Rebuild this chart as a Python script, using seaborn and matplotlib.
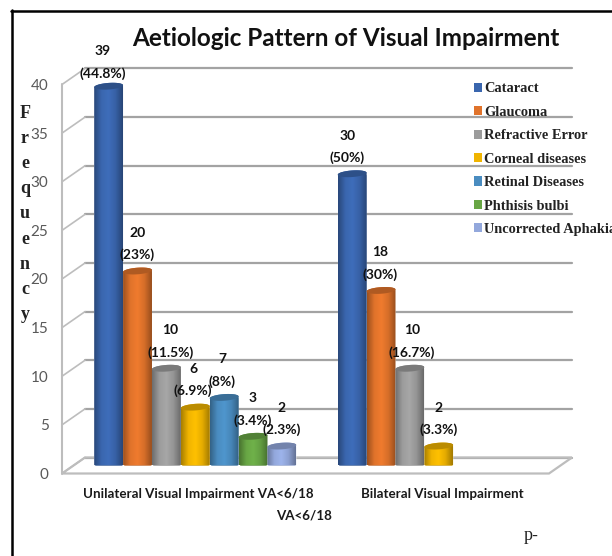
# Aetiologic pattern of visual impairment, 3D-look cylinder bars
import numpy as np
import pandas as pd
import matplotlib
matplotlib.use('Agg')
import matplotlib.pyplot as plt
import seaborn as sns
from matplotlib.colors import LinearSegmentedColormap, to_rgb
from matplotlib.patches import Patch, Polygon, Rectangle
from matplotlib.transforms import ScaledTranslation

groups = ['Unilateral Visual Impairment VA<6/18', 'Bilateral Visual Impairment']
causes = ['Cataract', 'Glaucoma', 'Refractive Error', 'Corneal diseases',
          'Retinal Diseases', 'Phthisis bulbi', 'Uncorrected Aphakia']
unilateral = [39, 20, 10, 6, 7, 3, 2]
bilateral = [30, 18, 10, 2]
unilateral_pct = ['44.8%', '23%', '11.5%', '6.9%', '8%', '3.4%', '2.3%']
bilateral_pct = ['50%', '30%', '16.7%', '3.3%']
colors = ['#3A66AE', '#E0732B', '#9C9C9C', '#F0B400', '#4A8CC0', '#68A645', '#93A8DC']
y_ticks = [0, 5, 10, 15, 20, 25, 30, 35, 40]

sns.set_theme(style='white')
plt.rcParams['font.family'] = ['Lato', 'DejaVu Sans']

rows = []
for c, v in zip(causes, unilateral):
    rows.append({'group': groups[0], 'cause': c, 'value': v})
for c, v in zip(causes, bilateral):
    rows.append({'group': groups[1], 'cause': c, 'value': v})
df = pd.DataFrame(rows)

W, H = 612, 556
fig = plt.figure(figsize=(W / 100, H / 100), dpi=100)
ax = fig.add_axes([73.5 / W, 1 - 465.5 / H, 487 / W, 389 / H])

sns.barplot(data=df, x='group', y='value', hue='cause', order=groups, hue_order=causes,
            palette=colors, width=0.83, gap=0, legend=False, ax=ax, zorder=3)
ax.set_xlim(-0.5, 1.5)
ax.set_ylim(0, 40)
ax.set_xlabel('')
ax.set_ylabel('')
sns.despine(ax=ax, left=True, bottom=True)

bars = sorted([b for b in ax.patches if isinstance(b, Rectangle) and b.get_height() > 0], key=lambda b: b.get_x())

# fake depth: back wall and front edge sit either side of the bar plane
dx = 11.5 * 2 / 487
dy = 8 * 40 / 389
grid_col = '#A3A3A3'
for t in y_ticks:
    ax.plot([-0.5 + dx, 1.5 + dx], [t + dy, t + dy], color=grid_col, lw=1.6, zorder=1, clip_on=False)
    ax.plot([-0.5 - dx, -0.5 + dx], [t - dy, t + dy], color='#BDBDBD', lw=1.2, zorder=1, clip_on=False)
ax.plot([-0.5 - dx, -0.5 - dx], [-dy, 40 - dy], color='#BDBDBD', lw=1.5, zorder=1, clip_on=False)
ax.add_patch(Polygon([(-0.5 - dx, -dy), (1.5 - dx, -dy), (1.5 + dx, dy), (-0.5 + dx, dy)],
                     closed=True, fill=False, edgecolor='#BDBDBD', lw=1.6, zorder=1, clip_on=False))

# turn the seaborn rectangles into shaded cylinders
ry = 3.3 * 40 / 389
tilt = 1.0 * 40 / 389
theta = np.linspace(0, 2 * np.pi, 60)
labels_pct = {}
for g, vals, pcts in [(groups[0], unilateral, unilateral_pct), (groups[1], bilateral, bilateral_pct)]:
    for c, v, p in zip(causes, vals, pcts):
        labels_pct[(g, c)] = (v, p)

label_nudge = [-6, 0, 4, -2, -2, 0, 0, -5, -1, 2, 0]
label_lift = [-3, 0, 0, 0, 0, 0, 0, 0, 0, 0, 0]
bar_info = []
for g, vals in [(groups[0], unilateral), (groups[1], bilateral)]:
    for c_i in range(len(vals)):
        bar_info.append((g, causes[c_i], c_i))

for i, (b, info) in enumerate(zip(bars, bar_info)):
    g, cause, c_i = info
    x0, w, top = b.get_x(), b.get_width(), b.get_height()
    cx = x0 + w / 2
    base = np.array(to_rgb(colors[c_i]))
    # body outline: lower half of base ellipse, then upper half of top ellipse
    t1 = np.linspace(np.pi, 2 * np.pi, 30)
    t2 = np.linspace(0, np.pi, 30)
    xs = np.r_[cx + w / 2 * np.cos(t1), cx + w / 2 * np.cos(t2)]
    ys = np.r_[ry * np.sin(t1) + tilt * np.cos(t1), top + ry * np.sin(t2) + tilt * np.cos(t2)]
    body = Polygon(np.c_[xs, ys], closed=True, transform=ax.transData, fill=False, edgecolor='none')
    ax.add_patch(body)
    b.set_clip_path(body)
    cmap = LinearSegmentedColormap.from_list('cyl', [base * 0.7, base * 1.0, np.minimum(base * 1.07, 1), base * 0.95, base * 0.68])
    grad = np.linspace(0, 1, 64).reshape(1, -1)
    img = ax.imshow(grad, cmap=cmap, extent=[x0, x0 + w, -ry - tilt, top + ry + tilt], aspect='auto',
                    zorder=3 + i * 0.1, interpolation='bilinear')
    img.set_clip_path(body)
    cap = Polygon(np.c_[cx + w / 2 * np.cos(theta), top + ry * np.sin(theta) + tilt * np.cos(theta)],
                  closed=True, facecolor=base * 0.78, edgecolor='none', zorder=3 + i * 0.1 + 0.05, clip_on=False)
    ax.add_patch(cap)

    v, pct = labels_pct[(g, cause)]
    ax.annotate(str(v), (cx, top), xytext=(label_nudge[i], 38 + label_lift[i]), textcoords='offset pixels', ha='center', va='center',
                fontsize=10, fontweight='bold', color='#111111', zorder=10, annotation_clip=False)
    ax.annotate('(' + pct + ')', (cx, top), xytext=(label_nudge[i], 16 + label_lift[i]), textcoords='offset pixels', ha='center', va='center',
                fontsize=10, fontweight='bold', color='#111111', zorder=10, annotation_clip=False)

ax.set_xlim(-0.5, 1.5)
ax.set_ylim(0, 40)

# ticks
ax.set_yticks(y_ticks)
ax.tick_params(axis='y', length=0, pad=18, labelsize=11, labelcolor='#595959')
ax.tick_params(axis='x', length=0, pad=16.5, labelsize=9.6)
shift = ScaledTranslation(0, -8 / 100, fig.dpi_scale_trans)
for lab in ax.get_yticklabels():
    lab.set_transform(lab.get_transform() + shift)
shift_x = ScaledTranslation(3.5 / 100, 0, fig.dpi_scale_trans)
for lab in ax.get_xticklabels():
    lab.set_fontweight('bold')
    lab.set_color('#1a1a1a')
    lab.set_transform(lab.get_transform() + shift_x)

# legend
handles = [Patch(facecolor=c, edgecolor='none') for c in colors]
leg = fig.legend(handles, causes, loc='upper left', bbox_to_anchor=(474 / W, 1 - 82.5 / H), frameon=False,
                 ncol=1, handlelength=0.52, handleheight=0.6, handletextpad=0.17, labelspacing=0.72, borderpad=0,
                 borderaxespad=0, prop={'family': 'Liberation Serif', 'weight': 'bold', 'size': 10.4})
for t in leg.get_texts():
    t.set_color('#222222')

fig.text(346 / W, 1 - 39 / H, 'Aetiologic Pattern of Visual Impairment', ha='center', va='center',
         fontsize=17.5, fontweight='bold', color='#111111')
fig.text(304 / W, 1 - 515 / H, 'VA<6/18', ha='center', va='center', fontsize=9.6, fontweight='bold', color='#1a1a1a')
fig.text(25 / W, 1 - 214 / H, '\n'.join('Frequency'), ha='center', va='center', family='Liberation Serif',
         fontweight='bold', fontsize=13, linespacing=1.62, color='#222222')
fig.text(531 / W, 1 - 536 / H, 'p-', ha='center', va='center', family='Liberation Serif', fontsize=13, color='#222222')

# outer frame, left and top only
fig.add_artist(plt.Line2D([11.5 / W, 11.5 / W], [0, 1 - 10 / H], color='black', lw=1.8))
fig.add_artist(plt.Line2D([11 / W, 1], [1 - 10.5 / H, 1 - 10.5 / H], color='black', lw=1.8))

fig.savefig('out.png', dpi=100)
